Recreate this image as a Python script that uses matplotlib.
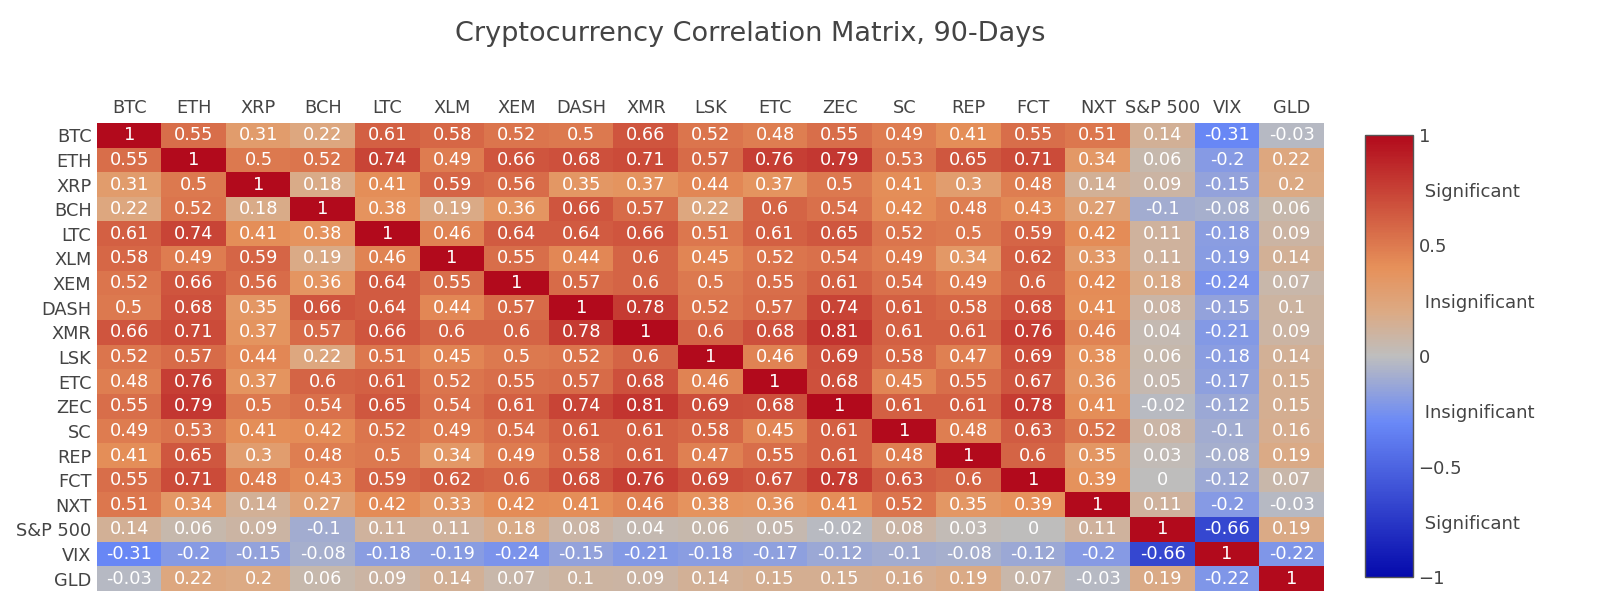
import numpy as np
import matplotlib
matplotlib.use("Agg")
import matplotlib.pyplot as plt
from matplotlib.colors import LinearSegmentedColormap

# asset names, same order on both axes
assets = ['BTC', 'ETH', 'XRP', 'BCH', 'LTC', 'XLM', 'XEM', 'DASH', 'XMR', 'LSK',
          'ETC', 'ZEC', 'SC', 'REP', 'FCT', 'NXT', 'S&P 500', 'VIX', 'GLD']

# 90-day correlations, one row per asset
corr = [
    [1, 0.55, 0.31, 0.22, 0.61, 0.58, 0.52, 0.5, 0.66, 0.52, 0.48, 0.55, 0.49, 0.41, 0.55, 0.51, 0.14, -0.31, -0.03],
    [0.55, 1, 0.5, 0.52, 0.74, 0.49, 0.66, 0.68, 0.71, 0.57, 0.76, 0.79, 0.53, 0.65, 0.71, 0.34, 0.06, -0.2, 0.22],
    [0.31, 0.5, 1, 0.18, 0.41, 0.59, 0.56, 0.35, 0.37, 0.44, 0.37, 0.5, 0.41, 0.3, 0.48, 0.14, 0.09, -0.15, 0.2],
    [0.22, 0.52, 0.18, 1, 0.38, 0.19, 0.36, 0.66, 0.57, 0.22, 0.6, 0.54, 0.42, 0.48, 0.43, 0.27, -0.1, -0.08, 0.06],
    [0.61, 0.74, 0.41, 0.38, 1, 0.46, 0.64, 0.64, 0.66, 0.51, 0.61, 0.65, 0.52, 0.5, 0.59, 0.42, 0.11, -0.18, 0.09],
    [0.58, 0.49, 0.59, 0.19, 0.46, 1, 0.55, 0.44, 0.6, 0.45, 0.52, 0.54, 0.49, 0.34, 0.62, 0.33, 0.11, -0.19, 0.14],
    [0.52, 0.66, 0.56, 0.36, 0.64, 0.55, 1, 0.57, 0.6, 0.5, 0.55, 0.61, 0.54, 0.49, 0.6, 0.42, 0.18, -0.24, 0.07],
    [0.5, 0.68, 0.35, 0.66, 0.64, 0.44, 0.57, 1, 0.78, 0.52, 0.57, 0.74, 0.61, 0.58, 0.68, 0.41, 0.08, -0.15, 0.1],
    [0.66, 0.71, 0.37, 0.57, 0.66, 0.6, 0.6, 0.78, 1, 0.6, 0.68, 0.81, 0.61, 0.61, 0.76, 0.46, 0.04, -0.21, 0.09],
    [0.52, 0.57, 0.44, 0.22, 0.51, 0.45, 0.5, 0.52, 0.6, 1, 0.46, 0.69, 0.58, 0.47, 0.69, 0.38, 0.06, -0.18, 0.14],
    [0.48, 0.76, 0.37, 0.6, 0.61, 0.52, 0.55, 0.57, 0.68, 0.46, 1, 0.68, 0.45, 0.55, 0.67, 0.36, 0.05, -0.17, 0.15],
    [0.55, 0.79, 0.5, 0.54, 0.65, 0.54, 0.61, 0.74, 0.81, 0.69, 0.68, 1, 0.61, 0.61, 0.78, 0.41, -0.02, -0.12, 0.15],
    [0.49, 0.53, 0.41, 0.42, 0.52, 0.49, 0.54, 0.61, 0.61, 0.58, 0.45, 0.61, 1, 0.48, 0.63, 0.52, 0.08, -0.1, 0.16],
    [0.41, 0.65, 0.3, 0.48, 0.5, 0.34, 0.49, 0.58, 0.61, 0.47, 0.55, 0.61, 0.48, 1, 0.6, 0.35, 0.03, -0.08, 0.19],
    [0.55, 0.71, 0.48, 0.43, 0.59, 0.62, 0.6, 0.68, 0.76, 0.69, 0.67, 0.78, 0.63, 0.6, 1, 0.39, 0, -0.12, 0.07],
    [0.51, 0.34, 0.14, 0.27, 0.42, 0.33, 0.42, 0.41, 0.46, 0.38, 0.36, 0.41, 0.52, 0.35, 0.39, 1, 0.11, -0.2, -0.03],
    [0.14, 0.06, 0.09, -0.1, 0.11, 0.11, 0.18, 0.08, 0.04, 0.06, 0.05, -0.02, 0.08, 0.03, 0, 0.11, 1, -0.66, 0.19],
    [-0.31, -0.2, -0.15, -0.08, -0.18, -0.19, -0.24, -0.15, -0.21, -0.18, -0.17, -0.12, -0.1, -0.08, -0.12, -0.2, -0.66, 1, -0.22],
    [-0.03, 0.22, 0.2, 0.06, 0.09, 0.14, 0.07, 0.1, 0.09, 0.14, 0.15, 0.15, 0.16, 0.19, 0.07, -0.03, 0.19, -0.22, 1],
]

cbar_ticks = [-1, -0.75, -0.5, -0.25, 0, 0.25, 0.5, 0.75, 1]
cbar_labels = ['\u22121', ' Significant', '\u22120.5', ' Insignificant', '0',
               ' Insignificant', '0.5', ' Significant', '1']

# plotly-style RdBu scale
stops = [(0.0, (5, 10, 172)), (0.35, (106, 137, 247)), (0.5, (190, 190, 190)),
         (0.6, (220, 170, 132)), (0.7, (230, 145, 90)), (1.0, (178, 10, 28))]
cmap = LinearSegmentedColormap.from_list(
    'plotly_rdbu', [(p, tuple(c / 255 for c in rgb)) for p, rgb in stops])

plt.rcParams['font.family'] = 'DejaVu Sans'
text_col = '#444444'

fig = plt.figure(figsize=(16, 6.11), dpi=100)
ax = fig.add_axes([97 / 1600, 20 / 611, 1227 / 1600, 468 / 611])
cax = fig.add_axes([1365 / 1600, 34 / 611, 48 / 1600, 442 / 611])

data = np.array(corr)
im = ax.imshow(data, cmap=cmap, vmin=-1, vmax=1, aspect='auto', interpolation='nearest')

for i in range(len(assets)):
    for j in range(len(assets)):
        ax.text(j, i, f"{data[i, j]:g}", ha='center', va='center',
                color='white', fontsize=12.8)

ax.set_xticks(range(len(assets)))
ax.set_xticklabels(assets, fontsize=12.8, color=text_col)
ax.set_yticks(range(len(assets)))
ax.set_yticklabels(assets, fontsize=12.8, color=text_col)
ax.xaxis.tick_top()
ax.tick_params(length=0, pad=4)
for s in ax.spines.values():
    s.set_visible(False)

cb = fig.colorbar(im, cax=cax, ticks=cbar_ticks)
cb.ax.set_yticklabels(cbar_labels, fontsize=13, color=text_col)
cb.ax.tick_params(length=0, pad=4)
cb.outline.set_edgecolor('#555555')
cb.outline.set_linewidth(1)

fig.text(750 / 1600, 1 - 34 / 611, 'Cryptocurrency Correlation Matrix, 90-Days',
         ha='center', va='center', fontsize=19.5, color=text_col)

fig.savefig('out.png', dpi=100)
